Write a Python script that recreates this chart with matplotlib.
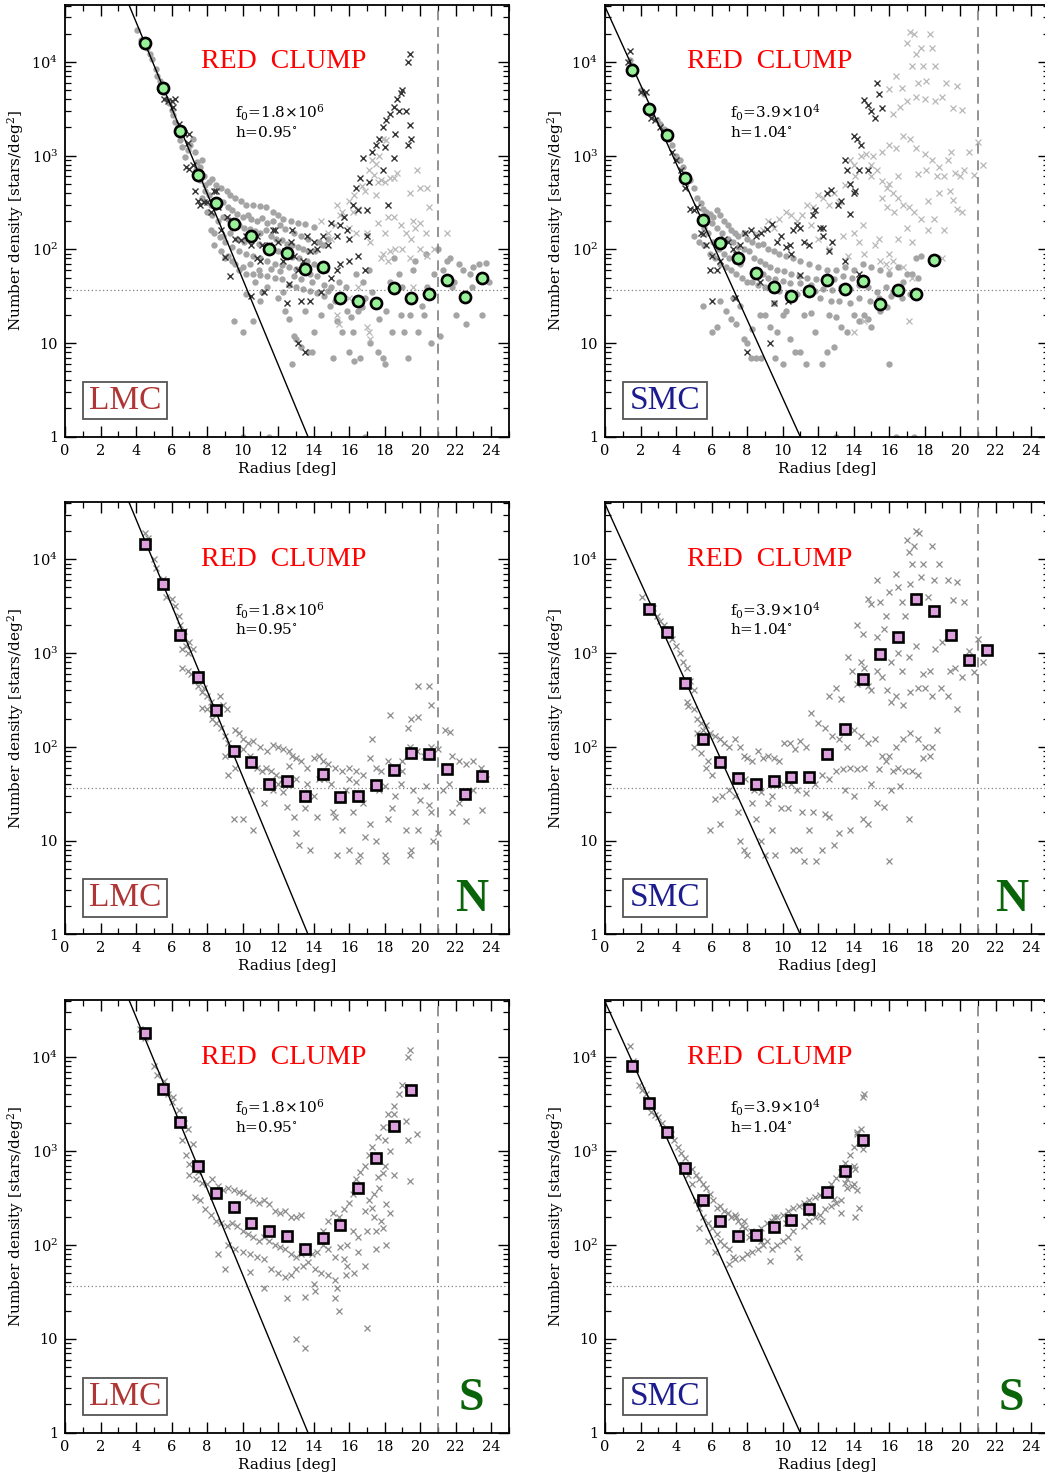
import numpy as np
import matplotlib.pyplot as plt
from matplotlib.ticker import MultipleLocator, LogLocator, FuncFormatter, NullFormatter
from matplotlib.patches import Rectangle

plt.rcParams['font.family'] = ['DejaVu Serif']
plt.rcParams['mathtext.fontset'] = 'dejavuserif'

# exponential fits  n(r) = f0 * exp(-r/h)
lmc_f0, lmc_h = 1.8e6, 0.95
smc_f0, smc_h = 3.9e4, 1.04
background = 36.5   # dotted level
r_limit = 21.0      # dashed line

# ---- binned profiles (big markers) ----
lmc_all_r = [4.5, 5.5, 6.5, 7.5, 8.5, 9.5, 10.5, 11.5, 12.5, 13.5, 14.5, 15.5, 16.5, 17.5,
             18.5, 19.5, 20.5, 21.5, 22.5, 23.5]
lmc_all_n = [16000, 5270, 1820, 628, 310, 184, 137, 102, 92, 62, 64, 30, 28, 27,
             39, 30, 33, 47, 31, 49]
smc_all_r = [1.5, 2.5, 3.5, 4.5, 5.5, 6.5, 7.5, 8.5, 9.5, 10.5, 11.5, 12.5, 13.5, 14.5,
             15.5, 16.5, 17.5, 18.5]
smc_all_n = [8130, 3180, 1640, 578, 205, 117, 80, 56, 40, 32, 36, 47, 38, 46, 26, 37, 33, 77]
lmc_n_r = [4.5, 5.5, 6.5, 7.5, 8.5, 9.5, 10.5, 11.5, 12.5, 13.5, 14.5, 15.5, 16.5, 17.5,
           18.5, 19.5, 20.5, 21.5, 22.5, 23.5]
lmc_n_n = [14700, 5500, 1550, 557, 246, 90, 69, 40, 43, 30, 51, 29, 30, 39, 57, 85, 83, 58, 31, 49]
smc_n_r = [2.5, 3.5, 4.5, 5.5, 6.5, 7.5, 8.5, 9.5, 10.5, 11.5, 12.5, 13.5, 14.5, 15.5,
           16.5, 17.5, 18.5, 19.5, 20.5, 21.5]
smc_n_n = [2980, 1680, 481, 120, 69, 46, 40, 43, 48, 48, 84, 154, 526, 980,
           1490, 3810, 2790, 1550, 839, 1072]
lmc_s_r = [4.5, 5.5, 6.5, 7.5, 8.5, 9.5, 10.5, 11.5, 12.5, 13.5, 14.5, 15.5, 16.5, 17.5, 18.5, 19.5]
lmc_s_n = [18250, 4560, 2050, 688, 355, 256, 172, 142, 124, 90, 118, 164, 402, 843, 1860, 4490]
smc_s_r = [1.5, 2.5, 3.5, 4.5, 5.5, 6.5, 7.5, 8.5, 9.5, 10.5, 11.5, 12.5, 13.5, 14.5]
smc_s_n = [7940, 3240, 1580, 661, 297, 178, 124, 126, 155, 182, 242, 370, 613, 1310]

# ---- individual fields (r [deg], density) ----
lmc_all_dots = [
    (4.05, 21700), (4.3, 17000), (4.6, 14000), (4.8, 12000), (4.9, 10700), (5.1, 8500), (5.2, 7000),
    (5.35, 6200), (5.6, 4800), (5.7, 4000), (5.85, 3600), (6.0, 3100), (6.1, 2700), (6.2, 2300),
    (6.35, 2000), (6.5, 1450), (6.6, 1250), (6.75, 970), (6.9, 1150), (7.05, 1300), (7.2, 1500),
    (7.3, 1100), (7.45, 850), (7.6, 760), (7.7, 900),
    (7.8, 600), (7.9, 480), (8.1, 520), (8.3, 560), (8.5, 480), (8.8, 450), (9.1, 420), (9.3, 380),
    (9.6, 350), (9.9, 330), (10.2, 300), (10.6, 300), (11.0, 290), (11.3, 280), (11.7, 250),
    (12.0, 230), (12.3, 210), (12.7, 200), (13.1, 190), (13.5, 185), (14.0, 175),
    (8.0, 250), (8.3, 230), (8.6, 200), (8.9, 220), (9.2, 210), (9.5, 195), (9.8, 180), (10.1, 170),
    (10.4, 165), (10.7, 155), (11.0, 150), (11.3, 160), (11.6, 140), (11.9, 130), (12.2, 125),
    (12.5, 115), (12.8, 110), (13.1, 105), (13.4, 100), (13.7, 95), (14.1, 95), (14.5, 110), (14.8, 130),
    (8.2, 160), (8.7, 135), (9.0, 120), (9.4, 105), (9.8, 95), (10.2, 90), (10.6, 85), (11.0, 80),
    (11.4, 75), (11.8, 70), (12.2, 68), (12.6, 65), (13.0, 62), (13.4, 58), (13.8, 55), (14.2, 52),
    (9.0, 80), (9.4, 75), (9.8, 60), (10.2, 55), (10.6, 55), (11.0, 53), (11.4, 52), (11.8, 50),
    (12.2, 48), (12.6, 42), (13.0, 40), (13.4, 38), (13.8, 36), (14.2, 34), (14.6, 32),
    (9.5, 17), (10.0, 13), (10.6, 17), (10.2, 33), (11.1, 35), (11.4, 40), (12.4, 22), (12.6, 18),
    (12.9, 12), (13.0, 11), (13.3, 9), (13.7, 8), (12.8, 6), (14.0, 13), (13.9, 8), (11.0, 28),
    (12.0, 30), (13.5, 22), (14.4, 20),
    (7.4, 700), (7.6, 550), (7.9, 420), (8.1, 380), (8.4, 330), (8.6, 300), (8.9, 320), (9.2, 280),
    (9.4, 260), (9.7, 240), (10.0, 220), (10.3, 230), (10.5, 210), (10.8, 200), (11.1, 215),
    (11.4, 190), (11.7, 200), (12.1, 180), (12.4, 165), (12.9, 150), (13.3, 140), (13.7, 130),
    (14.3, 120), (7.7, 350), (8.2, 300), (8.4, 150), (8.9, 140), (9.3, 150), (9.7, 130), (10.1, 120),
    (10.5, 125), (10.9, 115), (11.3, 105), (11.7, 100), (12.0, 95), (12.4, 88), (12.8, 82),
    (13.2, 80), (13.6, 75), (14.0, 70), (14.4, 65), (14.7, 60), (9.6, 70), (10.0, 65), (10.4, 70),
    (10.9, 60), (11.6, 62), (12.1, 58), (12.9, 52), (13.3, 48), (13.9, 45), (14.6, 42), (8.4, 110),
    (8.8, 95), (9.2, 85), (10.7, 45), (12.3, 35), (14.8, 36),
    (15.0, 40), (15.2, 28), (15.3, 17), (15.6, 13), (15.1, 7), (15.8, 40), (15.9, 22), (16.1, 19),
    (16.0, 8), (16.3, 6.5), (16.5, 22), (16.7, 24), (16.9, 30), (16.6, 7), (17.1, 60), (17.3, 35),
    (17.5, 28), (17.2, 10), (17.7, 18), (17.9, 7), (18.0, 6), (18.1, 22), (18.3, 45), (18.5, 80),
    (18.6, 40), (18.8, 55), (18.9, 20), (19.1, 13), (19.3, 7), (19.4, 20), (19.6, 60), (19.7, 75),
    (19.9, 13), (20.1, 25), (20.3, 90), (20.4, 40), (20.6, 10), (20.8, 55), (21.0, 100), (21.1, 12),
    (21.3, 60), (21.5, 75), (21.7, 80), (21.8, 40), (22.0, 20), (22.2, 70), (22.4, 60), (22.6, 16),
    (22.8, 55), (23.0, 65), (23.3, 70), (23.5, 20), (23.7, 72), (23.9, 45), (21.9, 45), (22.9, 40),
    (20.2, 20), (19.0, 40), (18.4, 13), (16.2, 13), (15.4, 45), (16.8, 45), (17.6, 8), (16.4, 55),
    (14.9, 25), (10.0, 1.0), (11.5, 1.0), (16.9, 1.0),
]
lmc_all_dark = [
    (5.6, 4000), (5.8, 3800), (6.0, 3800), (6.2, 4000), (6.1, 3300), (6.4, 2200), (6.7, 1750),
    (7.0, 1700), (6.9, 1350), (6.8, 750), (7.0, 720), (7.2, 800), (7.3, 420), (7.5, 330), (7.6, 300),
    (7.8, 320), (8.0, 320), (8.2, 250), (8.4, 420), (8.6, 280), (8.8, 160), (9.1, 220), (9.4, 200),
    (9.6, 130), (9.9, 125), (10.2, 140), (10.5, 110), (10.8, 80), (11.0, 75), (11.1, 110), (11.5, 110),
    (11.8, 160), (12.0, 120), (12.3, 75), (12.4, 95), (12.7, 120), (12.8, 160), (12.9, 85), (13.1, 60),
    (13.4, 75), (13.6, 140), (13.8, 95), (14.0, 120), (14.2, 100), (14.5, 140), (14.8, 110),
    (15.0, 190), (15.3, 140), (15.5, 180), (15.7, 220), (15.9, 160), (16.0, 130), (16.2, 300),
    (16.4, 450), (16.6, 580), (16.8, 950), (17.1, 520), (17.3, 1100), (17.5, 1300), (17.7, 1500),
    (17.9, 2000), (18.1, 2400), (18.3, 2800), (18.5, 3300), (18.7, 4000), (18.9, 4700), (19.0, 5000),
    (18.8, 3000), (19.2, 3000), (19.4, 2100), (19.3, 1300), (18.6, 1700), (18.5, 950), (18.0, 1250),
    (17.9, 700), (18.2, 300), (17.0, 260), (17.0, 140), (16.5, 260), (16.5, 85), (16.0, 75),
    (15.3, 60), (15.5, 70), (16.9, 60), (9.0, 82), (9.3, 52), (10.5, 32), (11.2, 35), (12.6, 43),
    (12.5, 27), (13.1, 10), (13.3, 28), (13.5, 8), (13.8, 28), (14.4, 35), (15.0, 50), (19.4, 12000),
    (19.3, 10000), (19.5, 1500), (8.5, 420), (10.8, 140), (11.7, 160),
]
lmc_all_light = [
    (14.4, 200), (14.8, 150), (15.0, 130), (15.2, 180), (15.5, 230), (15.7, 220), (15.3, 300),
    (15.6, 250), (16.0, 330), (16.2, 250), (16.3, 380), (16.5, 270), (16.0, 170), (16.4, 150),
    (16.7, 470), (16.9, 420), (17.1, 700), (17.3, 900), (17.5, 820), (17.7, 1000), (17.9, 1500),
    (18.1, 1450), (17.4, 620), (17.6, 520), (17.8, 550), (17.5, 380), (18.0, 520), (18.3, 580),
    (18.5, 570), (18.7, 650), (17.0, 150), (17.2, 120), (17.6, 190), (18.0, 150), (18.2, 220),
    (18.5, 220), (18.9, 180), (19.2, 150), (19.5, 130), (19.7, 170), (20.0, 190), (20.3, 150),
    (19.8, 700), (20.0, 450), (20.4, 450), (20.5, 280), (19.4, 400), (19.6, 200), (20.0, 100),
    (20.4, 85), (20.8, 100), (21.5, 150), (19.0, 100), (18.6, 100), (18.2, 75), (17.8, 80),
    (15.3, 20), (15.4, 16), (17.0, 15), (17.1, 13), (17.2, 11), (16.5, 40), (16.0, 30), (19.6, 40),
    (19.4, 80), (17.9, 90), (18.3, 95),
]
smc_all_dots = [
    (1.4, 10500), (1.6, 9000), (2.0, 5000), (2.2, 4500), (2.4, 3000), (2.6, 2700), (2.9, 2400),
    (3.1, 2200), (3.3, 1900), (3.6, 1500), (3.8, 1300), (4.0, 1000), (4.2, 900), (4.4, 750),
    (4.6, 620), (4.8, 550), (5.0, 450), (5.2, 350), (5.4, 310), (5.5, 270), (5.7, 250), (5.9, 240),
    (6.1, 220), (6.3, 260), (6.5, 230), (6.7, 200), (6.9, 180), (7.1, 160), (7.3, 150), (7.5, 140),
    (7.8, 150), (8.0, 130), (8.3, 120), (8.6, 110), (8.9, 115), (9.2, 100), (9.5, 95), (9.8, 90),
    (10.2, 85), (10.6, 80), (11.0, 75), (11.5, 70), (12.0, 65), (12.5, 60), (13.0, 60), (13.5, 65),
    (14.0, 60), (14.5, 70), (15.0, 65), (15.5, 60), (16.0, 55), (16.5, 65), (17.0, 55), (17.5, 80),
    (17.8, 85),
    (5.0, 140), (5.3, 120), (5.6, 110), (5.9, 90), (6.2, 80), (6.5, 70), (6.8, 65), (7.1, 60),
    (7.4, 55), (7.7, 50), (8.0, 45), (8.3, 45), (8.6, 42), (9.0, 40), (9.4, 38), (9.8, 36),
    (10.3, 34), (10.8, 33), (11.3, 35), (11.8, 36), (12.3, 38), (12.8, 37), (13.3, 40), (13.8, 38),
    (14.3, 42), (14.8, 40), (15.3, 35), (15.8, 40), (16.2, 35), (16.8, 45), (17.3, 55), (17.6, 50),
    (5.6, 170), (5.8, 150), (6.0, 190), (6.3, 170), (6.6, 150), (6.9, 130), (7.2, 120), (7.5, 105),
    (7.8, 100), (8.1, 95), (8.4, 80), (8.7, 75), (9.0, 70), (9.3, 65), (9.7, 60), (10.1, 58),
    (10.5, 55), (10.9, 52), (11.4, 50), (11.9, 48), (12.4, 50), (12.9, 48), (13.4, 52), (13.9, 50),
    (14.4, 48), (6.1, 120), (6.4, 100), (6.7, 90), (7.0, 80), (7.3, 75), (7.6, 70), (8.9, 55),
    (9.2, 50), (9.6, 48), (10.0, 46), (10.4, 44), (11.0, 44), (11.6, 42), (12.1, 30), (12.7, 28),
    (13.2, 28), (13.8, 27), (14.3, 30), (14.9, 28), (15.4, 30), (16.1, 32), (16.7, 30), (17.2, 33),
    (5.5, 25), (6.0, 13), (6.3, 15), (6.5, 28), (6.8, 22), (7.1, 18), (7.4, 16), (7.6, 25), (7.8, 11),
    (8.0, 10), (8.2, 7), (8.5, 7), (8.8, 7), (9.0, 20), (9.3, 15), (9.6, 7), (9.7, 13), (10.0, 20),
    (10.2, 22), (10.4, 11), (10.7, 8), (11.0, 8), (11.2, 20), (11.6, 21), (11.8, 13), (12.2, 6),
    (12.5, 8), (12.6, 20), (13.0, 19), (13.3, 15), (13.6, 13), (14.0, 20), (14.3, 17), (14.6, 20),
    (15.0, 15), (15.5, 22), (15.9, 24), (16.0, 6), (10.0, 6), (11.3, 6), (8.3, 14), (7.2, 30),
    (9.5, 27), (8.7, 20), (12.9, 9), (14.8, 18), (13.0, 1.0), (16.4, 1.0), (17.4, 1.0),
]
smc_all_dark = [
    (1.4, 13000), (1.3, 10000), (2.0, 4800), (2.3, 4800), (2.6, 2500), (2.8, 2400), (3.1, 2000),
    (3.3, 1800), (3.8, 1100), (4.0, 900), (4.3, 700), (4.5, 450), (4.8, 270), (5.0, 260), (5.2, 280),
    (5.4, 150), (5.5, 145), (5.7, 110), (6.0, 85), (5.9, 60), (6.3, 60), (6.5, 75), (6.7, 130),
    (6.9, 120), (7.2, 100), (7.4, 90), (7.6, 110), (7.9, 150), (8.2, 160), (8.5, 140), (8.8, 150),
    (9.1, 165), (9.4, 185), (9.7, 120), (9.9, 140), (10.2, 105), (10.4, 110), (10.6, 160), (10.8, 180),
    (11.0, 170), (11.2, 120), (11.5, 110), (11.7, 230), (11.8, 260), (12.1, 170), (12.3, 140),
    (12.5, 400), (12.7, 430), (12.8, 120), (13.1, 300), (13.3, 330), (13.5, 900), (13.6, 700),
    (13.8, 240), (14.0, 1600), (14.2, 1500), (14.4, 1300), (14.3, 700), (14.6, 3900), (14.8, 3500),
    (15.0, 3000), (15.2, 2500), (15.3, 6000), (15.4, 4500), (15.6, 3200), (14.1, 420), (13.8, 500),
    (12.3, 170), (11.0, 53), (11.3, 35), (10.3, 28), (9.3, 10), (8.0, 8), (6.0, 28), (7.3, 30),
    (9.5, 27), (12.6, 95), (13.5, 75), (14.3, 55), (14.8, 700), (14.0, 400), (10.5, 90), (8.7, 45),
]
smc_all_light = [
    (8.5, 150), (8.9, 160), (9.2, 200), (9.5, 170), (9.8, 210), (10.2, 250), (10.5, 230), (10.8, 200),
    (11.1, 230), (11.4, 300), (11.7, 280), (12.0, 380), (12.3, 350), (12.6, 300), (12.9, 400),
    (13.2, 320), (13.5, 480), (13.8, 500), (14.1, 600), (14.4, 1000), (14.7, 1050), (15.0, 800),
    (15.3, 700), (15.6, 530), (15.9, 450), (16.2, 400), (16.5, 350), (16.8, 300), (17.1, 280),
    (13.8, 900), (14.0, 800), (15.1, 1000), (15.6, 1100), (16.0, 1300), (16.4, 1200), (16.8, 1600),
    (17.2, 1500), (17.5, 1200), (18.0, 1050), (18.4, 900), (18.8, 750), (19.3, 900), (16.2, 2800),
    (16.6, 3300), (17.0, 3800), (17.5, 4200), (18.0, 4000), (18.6, 3800), (19.0, 4200), (19.6, 3200),
    (20.1, 3100), (16.0, 5200), (16.4, 7000), (16.7, 5300), (17.3, 9000), (17.6, 6000), (18.1, 6300),
    (18.6, 9000), (19.2, 6000), (19.8, 5600), (17.0, 16000), (17.5, 12000), (17.8, 14000),
    (18.4, 14000), (17.9, 9000), (17.2, 21000), (17.4, 20000), (18.3, 20000), (19.5, 1100),
    (20.0, 600), (20.5, 1100), (21.0, 1400), (21.3, 800), (20.8, 620), (20.2, 700), (19.7, 650),
    (19.1, 600), (18.7, 600), (18.1, 700), (17.6, 640), (16.5, 600), (16.0, 500), (15.6, 350),
    (15.0, 600), (14.5, 180), (14.0, 150), (13.4, 140), (12.6, 100), (12.0, 130), (11.6, 180),
    (15.9, 280), (16.3, 250), (17.4, 250), (18.2, 330), (19.6, 340), (19.8, 270), (20.1, 250),
    (19.4, 420), (18.8, 400), (17.0, 170), (17.8, 210), (18.5, 210), (19.1, 160), (17.3, 120),
    (18.2, 160), (16.5, 130), (16.0, 90), (15.2, 110), (14.6, 90), (15.8, 70), (16.8, 65), (17.3, 50),
    (16.2, 75), (19.0, 80), (14.3, 120), (15.4, 130), (13.7, 85), (14.0, 13), (14.6, 17), (17.1, 17),
    (15.5, 75), (16.0, 60),
]
lmc_n_fields = [
    (4.5, 19000), (4.7, 17000), (5.0, 10000), (5.1, 8000), (5.5, 6200), (5.7, 4000), (6.0, 3800),
    (6.2, 3200), (6.4, 2500), (6.5, 2000), (6.7, 1700), (6.8, 1200), (6.6, 1100), (6.9, 1000),
    (7.0, 1300), (7.2, 1100), (6.6, 700), (6.9, 650), (7.1, 600), (7.3, 500), (7.5, 450), (7.6, 600),
    (7.8, 420), (7.7, 380), (8.0, 350), (8.2, 300), (7.7, 260), (8.0, 250), (8.3, 200), (8.5, 180),
    (8.7, 350), (8.9, 280), (9.1, 250), (8.8, 160), (9.0, 130), (9.2, 110), (9.4, 95), (9.6, 150),
    (9.8, 140), (9.0, 80), (9.2, 50), (9.6, 60), (10.0, 120), (10.3, 110), (10.6, 115), (10.0, 95),
    (10.4, 80), (10.8, 60), (11.1, 55), (11.0, 100), (11.4, 90), (11.7, 105), (12.0, 100), (12.3, 95),
    (12.6, 90), (12.8, 80), (11.3, 60), (11.6, 55), (11.9, 50), (12.2, 45), (12.6, 62), (13.0, 75),
    (13.3, 70), (13.6, 60), (14.0, 75), (14.3, 80), (14.5, 70), (14.8, 65), (15.2, 60), (15.6, 55),
    (16.0, 60), (16.4, 55), (16.8, 50), (17.2, 75), (17.5, 60), (17.8, 55), (18.2, 70), (18.6, 60),
    (19.0, 70), (19.4, 100), (19.8, 90), (20.2, 80), (20.6, 100), (21.0, 95), (21.4, 150), (21.8, 80),
    (22.2, 70), (22.6, 65), (23.0, 70), (23.4, 60), (23.7, 45), (10.5, 35), (10.0, 17), (9.5, 17),
    (10.6, 13), (11.2, 25), (11.7, 35), (12.3, 33), (12.5, 23), (12.9, 18), (13.0, 12), (13.2, 9),
    (13.5, 22), (13.8, 8), (14.2, 18), (14.0, 30), (14.6, 45), (15.1, 20), (15.2, 18), (15.4, 28),
    (15.6, 13), (15.3, 7), (15.8, 35), (16.0, 8), (16.2, 20), (16.5, 6), (16.6, 7), (16.8, 25),
    (16.9, 11), (17.2, 15), (17.5, 10), (17.7, 35), (18.0, 7), (18.1, 6), (18.2, 17), (18.4, 22),
    (18.6, 30), (18.9, 40), (19.2, 13), (19.4, 7), (19.5, 8), (19.7, 20), (19.9, 13), (20.0, 27),
    (20.3, 38), (20.5, 24), (20.7, 10), (20.6, 20), (21.0, 12), (21.3, 35), (21.6, 40), (21.8, 20),
    (22.2, 25), (22.6, 16), (23.0, 35), (23.5, 21), (17.3, 120), (18.3, 220), (19.5, 200),
    (19.9, 210), (19.3, 160), (20.6, 280), (19.9, 450), (20.5, 450), (21.7, 145), (19.0, 55),
    (19.6, 35), (18.0, 38), (16.4, 42), (16.0, 45), (15.0, 40), (14.3, 45), (13.6, 40), (13.0, 45),
    (12.0, 40), (11.5, 38),
]
smc_n_fields = [
    (2.1, 4000), (2.7, 3000), (2.9, 2500), (3.1, 2200), (3.3, 2000), (3.6, 1600), (3.8, 1400),
    (4.0, 1200), (4.2, 1000), (4.4, 800), (4.6, 700), (4.8, 500), (5.0, 400), (4.6, 300), (4.7, 270),
    (5.0, 250), (5.2, 200), (5.4, 180), (5.5, 150), (5.7, 170), (5.9, 140), (5.2, 140), (5.0, 100),
    (5.4, 85), (5.8, 70), (5.7, 60), (6.0, 50), (6.2, 130), (6.5, 120), (6.7, 110), (7.0, 100),
    (7.3, 120), (7.6, 100), (7.8, 80), (8.0, 75), (8.3, 70), (8.6, 90), (8.9, 75), (9.2, 80),
    (9.5, 75), (9.8, 70), (10.1, 110), (10.4, 110), (10.7, 95), (11.0, 115), (11.3, 100), (11.6, 230),
    (6.2, 28), (6.5, 15), (7.0, 35), (7.3, 30), (7.5, 20), (7.6, 10), (7.8, 8), (8.0, 7), (8.3, 25),
    (8.5, 17), (8.8, 10), (9.0, 7), (9.2, 25), (9.4, 13), (9.6, 7), (9.9, 22), (10.3, 22), (10.6, 8),
    (10.9, 8), (11.2, 6), (11.5, 13), (11.9, 6), (11.1, 20), (11.7, 20), (12.2, 8), (12.4, 19),
    (12.6, 18), (12.9, 9), (13.2, 12), (13.5, 35), (13.8, 13), (14.0, 30), (14.5, 17), (14.8, 15),
    (15.3, 25), (15.7, 23), (16.0, 6), (16.1, 35), (16.6, 38), (17.1, 17), (5.9, 13), (6.6, 30),
    (7.9, 45), (8.4, 35), (8.8, 33), (9.4, 30), (10.0, 40), (10.5, 40), (10.8, 35), (11.3, 32),
    (11.8, 40), (12.2, 50), (12.6, 45), (13.0, 55), (13.4, 58), (13.8, 60), (14.2, 58), (14.6, 60),
    (15.0, 40), (15.4, 58), (15.8, 70), (16.2, 55), (16.5, 60), (16.9, 55), (17.3, 55), (17.6, 50),
    (12.0, 180), (12.4, 160), (12.8, 130), (13.2, 120), (13.6, 100), (14.0, 150), (14.4, 130),
    (14.8, 110), (15.2, 120), (15.6, 80), (16.0, 80), (16.4, 100), (16.8, 120), (17.2, 140),
    (17.6, 120), (18.0, 100), (18.4, 100), (18.7, 150), (18.3, 80), (17.9, 75), (12.6, 350),
    (13.0, 420), (13.3, 320), (13.7, 900), (13.9, 650), (14.2, 470), (14.4, 800), (14.6, 700),
    (14.8, 450), (15.0, 400), (15.3, 650), (15.6, 550), (15.9, 400), (16.1, 300), (16.4, 350),
    (16.8, 280), (17.2, 380), (17.6, 420), (18.0, 420), (18.4, 350), (18.9, 420), (19.3, 350),
    (19.8, 250), (20.1, 550), (20.5, 1050), (20.8, 620), (21.0, 1400), (21.3, 800), (19.7, 700),
    (19.4, 650), (19.0, 1300), (18.6, 1100), (18.3, 650), (17.9, 600), (17.5, 1200), (17.1, 900),
    (16.7, 650), (16.5, 1000), (16.1, 800), (15.7, 1800), (15.3, 1500), (14.5, 1600), (14.2, 2000),
    (14.8, 3800), (15.0, 3300), (15.3, 6000), (15.5, 3500), (15.8, 2500), (16.0, 4500), (16.4, 7000),
    (16.5, 5000), (16.7, 3500), (16.9, 2500), (17.2, 5500), (17.3, 9000), (17.8, 6500), (18.2, 4000),
    (18.5, 6000), (18.8, 9000), (19.3, 6000), (19.8, 5700), (20.2, 3500), (19.6, 3700), (17.0, 16000),
    (17.1, 12000), (17.5, 20000), (17.7, 19000), (17.4, 14000), (18.4, 14000), (17.9, 9000),
]
lmc_s_fields = [
    (4.2, 20000), (4.5, 16000), (5.0, 8000), (5.2, 6500), (5.6, 5500), (5.8, 4000), (6.1, 3800),
    (6.0, 3300), (6.4, 2700), (6.7, 2000), (6.9, 1700), (7.2, 1200), (6.6, 1300), (6.8, 900),
    (7.0, 720), (7.3, 700), (7.5, 600), (7.0, 550), (7.4, 500), (7.7, 460), (8.0, 450), (8.3, 500),
    (8.6, 420), (8.9, 380), (9.2, 400), (9.5, 380), (9.8, 370), (10.0, 360), (10.3, 320), (10.6, 300),
    (10.9, 280), (11.2, 300), (11.5, 270), (11.8, 230), (12.1, 220), (12.4, 230), (12.7, 200),
    (13.0, 200), (13.3, 210), (7.3, 320), (7.6, 300), (7.9, 240), (8.2, 210), (8.5, 180), (8.8, 170),
    (9.1, 160), (9.4, 170), (9.7, 160), (10.0, 140), (10.3, 130), (10.6, 120), (10.9, 110),
    (11.2, 120), (11.5, 110), (11.8, 100), (12.1, 95), (12.4, 90), (12.7, 80), (13.0, 75), (13.3, 80),
    (13.6, 85), (13.9, 80), (14.2, 85), (14.5, 100), (14.8, 90), (9.2, 100), (9.6, 90), (10.0, 85),
    (10.4, 80), (10.8, 75), (11.2, 70), (11.6, 55), (12.0, 50), (12.4, 45), (12.7, 48), (13.0, 55),
    (13.4, 60), (13.7, 65), (14.1, 55), (14.4, 50), (14.8, 48), (9.0, 55), (8.6, 80), (10.4, 52),
    (11.2, 35), (12.5, 27), (13.5, 28), (14.0, 38), (14.1, 32), (15.2, 42), (15.2, 27), (15.4, 20),
    (15.3, 35), (13.0, 10), (13.5, 8), (17.0, 13), (14.5, 140), (14.8, 180), (15.1, 220), (15.4, 200),
    (15.7, 240), (16.0, 280), (16.2, 350), (16.4, 500), (16.6, 600), (16.9, 700), (17.1, 900),
    (17.3, 1100), (17.6, 1400), (17.9, 1800), (18.2, 2500), (18.5, 3000), (18.8, 4000), (19.0, 5000),
    (19.3, 4800), (19.4, 12000), (19.3, 10000), (19.8, 1500), (19.3, 1300), (19.4, 480), (19.2, 2100),
    (18.5, 2500), (18.3, 1800), (18.0, 1300), (18.0, 700), (18.3, 1000), (18.5, 550), (17.9, 580),
    (17.6, 530), (17.4, 350), (17.7, 400), (17.1, 300), (17.3, 250), (16.9, 230), (17.4, 200),
    (17.8, 180), (17.9, 150), (18.3, 220), (18.1, 270), (17.5, 140), (17.0, 140), (16.5, 120),
    (16.2, 140), (15.9, 100), (15.5, 95), (15.2, 75), (15.7, 70), (15.9, 60), (16.5, 85), (16.9, 60),
    (17.5, 90), (18.1, 100), (16.3, 50), (15.8, 48),
]
smc_s_fields = [
    (1.4, 13000), (1.6, 9000), (1.9, 5000), (2.1, 4500), (2.3, 4000), (2.6, 2600), (2.8, 2400),
    (3.0, 2300), (3.2, 2000), (3.4, 1700), (3.7, 1500), (3.9, 1300), (4.1, 1100), (4.3, 950),
    (4.5, 850), (4.7, 700), (4.9, 650), (5.1, 560), (5.3, 500), (5.5, 450), (5.7, 400), (5.9, 350),
    (6.1, 300), (6.3, 250), (6.5, 260), (6.7, 230), (6.9, 220), (7.1, 200), (7.3, 210), (7.5, 180),
    (7.7, 160), (7.9, 150), (8.2, 140), (8.5, 130), (8.8, 150), (9.1, 170), (9.4, 180), (9.7, 200),
    (10.0, 210), (10.3, 230), (10.6, 250), (10.9, 260), (11.2, 280), (11.5, 300), (11.8, 320),
    (12.1, 340), (12.4, 380), (12.7, 450), (13.0, 520), (13.3, 600), (13.5, 750), (13.8, 900),
    (14.0, 1100), (14.2, 1600), (14.4, 1700), (14.5, 3800), (14.6, 4000), (14.2, 1500), (4.7, 550),
    (4.9, 450), (5.1, 300), (5.3, 250), (5.5, 200), (5.8, 170), (6.0, 150), (6.3, 130), (6.5, 110),
    (6.7, 100), (7.0, 90), (7.2, 75), (7.3, 70), (7.0, 62), (7.7, 72), (8.0, 80), (8.3, 85), (8.6, 90),
    (8.9, 100), (9.1, 110), (9.4, 90), (9.7, 100), (10.0, 110), (10.3, 120), (10.6, 140), (10.8, 90),
    (10.9, 75), (11.2, 160), (11.5, 180), (11.8, 200), (12.1, 210), (12.4, 240), (12.7, 260),
    (13.0, 280), (13.3, 300), (13.6, 400), (13.9, 420), (14.1, 200), (14.3, 250), (14.2, 380),
    (14.0, 450), (13.6, 500), (5.3, 150), (5.8, 110), (6.2, 85), (9.3, 68), (8.8, 110), (7.8, 180),
    (7.4, 200), (8.1, 120), (9.5, 200), (10.2, 170), (11.6, 220), (12.2, 180), (13.3, 220),
    (13.5, 460), (12.9, 310), (14.0, 700), (14.5, 1050), (14.1, 650),
]

W, H = 1045, 1480
fig = plt.figure(figsize=(W / 100, H / 100), dpi=100)


def ylab(v, pos):
    if v == 1:
        return '1'
    if v == 10:
        return '10'
    return r'$10^{%d}$' % round(np.log10(v))


def cloud(ax, pts, **kw):
    r, n = zip(*pts)
    ax.plot(r, n, ls='none', **kw)


def panel(rect, gal, f0, h, br, bn, kind, clouds, tag=None):
    ax = fig.add_axes(rect)
    ax.set_yscale('log')
    ax.set_xlim(0, 25)
    ax.set_ylim(1, 4.05e4)
    for pts, kw in clouds:
        cloud(ax, pts, **kw)
    rr = np.linspace(0, 25, 300)
    ax.plot(rr, f0 * np.exp(-rr / h), color='black', lw=1.0, zorder=3)
    ax.axhline(background, color='#808080', ls=(0, (1, 2)), lw=0.9, zorder=2)
    ax.axvline(r_limit, color='#808080', ls=(0, (6, 4)), lw=1.2, zorder=2)
    if kind == 'circle':
        ax.plot(br, bn, ls='none', marker='o', ms=8, mfc='#98f098', mec='black', mew=1.9, zorder=5)
    else:
        ax.plot(br, bn, ls='none', marker='s', ms=7.5, mfc='#dca0dc', mec='black', mew=1.9, zorder=5)

    # labels
    xc = 12.3 if gal == 'LMC' else 9.3
    ax.text(xc, 1.0e4, 'RED  CLUMP', color='red', fontsize=20, family='Liberation Serif',
            ha='center', va='center', zorder=6)
    xt = 9.6 if gal == 'LMC' else 7.05
    ftxt = r'f$_0$=1.8$\times$10$^6$' if gal == 'LMC' else r'f$_0$=3.9$\times$10$^4$'
    htxt = r'h=0.95$^{\circ}$' if gal == 'LMC' else r'h=1.04$^{\circ}$'
    ax.text(xt, 2850, ftxt, fontsize=11, ha='left', va='center')
    ax.text(xt, 1780, htxt, fontsize=11, ha='left', va='center')
    ax.add_patch(Rectangle((0.0405, 0.041), 0.189, 0.086, transform=ax.transAxes,
                           fill=False, ec='#555555', lw=1.3, zorder=6))
    ax.text(0.135, 0.084, gal, transform=ax.transAxes, fontsize=24, family='Liberation Serif',
            color='#b03535' if gal == 'LMC' else '#1c1c8f', ha='center', va='center', zorder=6)
    if tag:
        ax.text(22.9, 2.3, tag, fontsize=33, family='Liberation Serif', weight='bold',
                color='#0a640a', ha='center', va='center')

    ax.xaxis.set_major_locator(MultipleLocator(2))
    ax.xaxis.set_minor_locator(MultipleLocator(1))
    ax.yaxis.set_major_locator(LogLocator(base=10, numticks=10))
    ax.yaxis.set_minor_locator(LogLocator(base=10, subs=np.arange(2, 10), numticks=20))
    ax.yaxis.set_major_formatter(FuncFormatter(ylab))
    ax.yaxis.set_minor_formatter(NullFormatter())
    ax.tick_params(which='both', direction='in', top=True, right=True, labelsize=10.5, pad=5)
    ax.tick_params(which='major', length=8, width=1.0)
    ax.tick_params(which='minor', length=4, width=0.9)
    for s in ax.spines.values():
        s.set_linewidth(1.3)
    ax.set_xlabel('Radius [deg]', fontsize=11)
    ax.set_ylabel(r'Number density [stars/deg$^2$]', fontsize=11)
    ax.xaxis.set_label_coords(0.5, -0.058)
    ax.yaxis.set_label_coords(-0.088, 0.5)
    return ax


dots = dict(marker='o', ms=4.6, color='#a4a4a4', mec='none', zorder=1)
dark = dict(marker='x', ms=3.8, color='#353535', mew=1.0, zorder=2)
light = dict(marker='x', ms=3.8, color='#b8b8b8', mew=0.9, zorder=1)
grey = dict(marker='x', ms=3.8, color='#8c8c8c', mew=0.9, zorder=1)

cl, cr, cw = 65 / W, 605 / W, 444 / W
rows = [(1 - 436.7 / H, 431.7 / H), (1 - 934.3 / H, 432 / H), (1 - 1432.7 / H, 432.7 / H)]

panel([cl, rows[0][0], cw, rows[0][1]], 'LMC', lmc_f0, lmc_h, lmc_all_r, lmc_all_n, 'circle',
      [(lmc_all_dots, dots), (lmc_all_light, light), (lmc_all_dark, dark)])
panel([cr, rows[0][0], cw, rows[0][1]], 'SMC', smc_f0, smc_h, smc_all_r, smc_all_n, 'circle',
      [(smc_all_dots, dots), (smc_all_light, light), (smc_all_dark, dark)])
panel([cl, rows[1][0], cw, rows[1][1]], 'LMC', lmc_f0, lmc_h, lmc_n_r, lmc_n_n, 'square',
      [(lmc_n_fields, grey)], tag='N')
panel([cr, rows[1][0], cw, rows[1][1]], 'SMC', smc_f0, smc_h, smc_n_r, smc_n_n, 'square',
      [(smc_n_fields, grey)], tag='N')
panel([cl, rows[2][0], cw, rows[2][1]], 'LMC', lmc_f0, lmc_h, lmc_s_r, lmc_s_n, 'square',
      [(lmc_s_fields, grey)], tag='S')
panel([cr, rows[2][0], cw, rows[2][1]], 'SMC', smc_f0, smc_h, smc_s_r, smc_s_n, 'square',
      [(smc_s_fields, grey)], tag='S')

fig.savefig('out.png', dpi=100)
